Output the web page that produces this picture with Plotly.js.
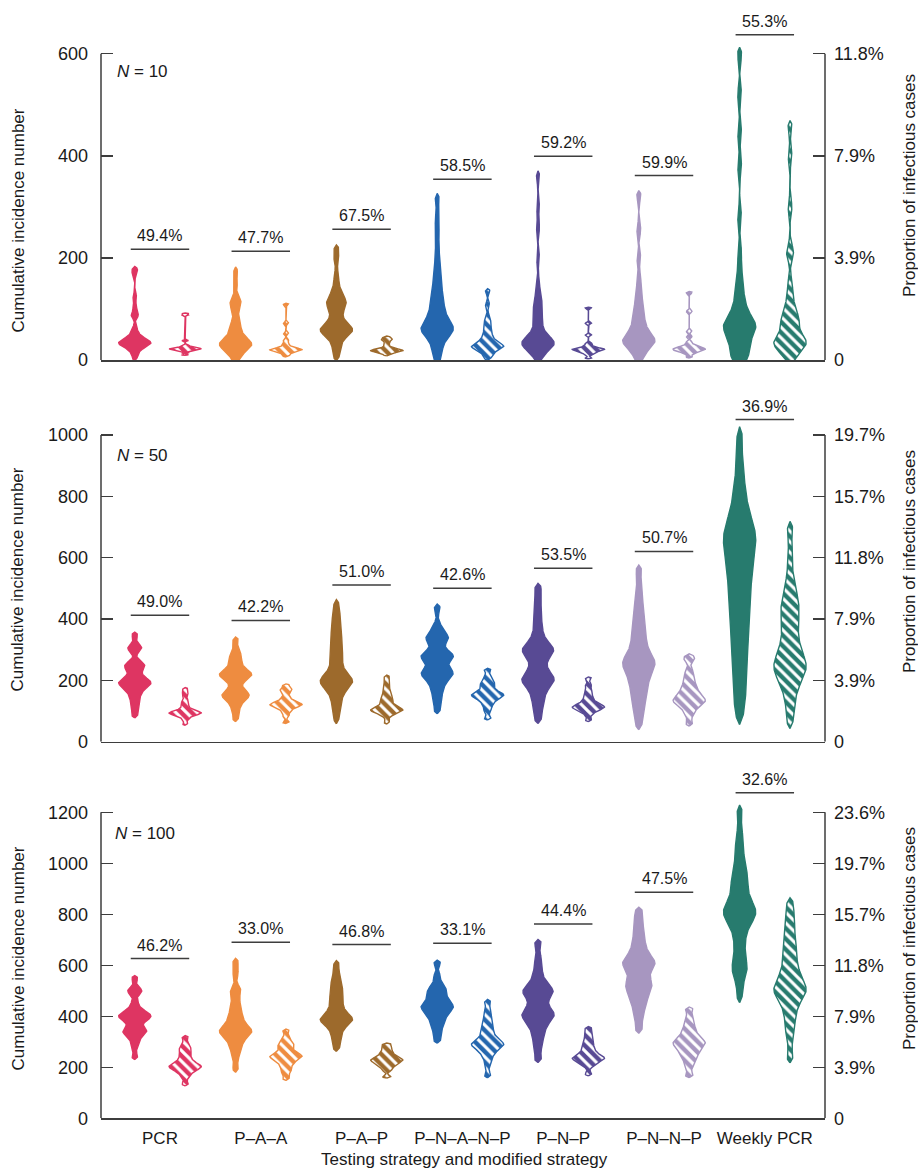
<!DOCTYPE html>
<html><head><meta charset="utf-8">
<script src="https://cdn.plot.ly/plotly-3.0.1.min.js"></script>
<style>body{margin:0;background:#fff}#chart{width:918px;height:1169px}</style>
</head><body><div id="chart"></div>
<script>
// ---------------- DATA ----------------
const categories = ['PCR', 'P–A–A', 'P–A–P', 'P–N–A–N–P', 'P–N–P', 'P–N–N–P', 'Weekly PCR'];
const colors = ['#DE3562', '#EE8C40', '#9D6A2C', '#2466AE', '#584A94', '#A796C0', '#277B6E'];

// N = 10 : original strategy (solid) samples of cumulative incidence
const n10Orig = [
  [4, 14, 20, 24, 27, 29, 31, 32, 33, 34, 35, 36, 38, 40, 43, 47, 52, 62, 87, 89, 105, 124, 170, 178],
  [1, 8, 14, 19, 23, 26, 28, 29, 30, 31, 33, 35, 38, 41, 45, 50, 56, 63, 70, 78, 95, 104, 110, 116, 122, 150, 174],
  [7, 22, 33, 42, 48, 52, 55, 57, 59, 61, 63, 66, 70, 76, 84, 92, 100, 106, 110, 114, 118, 124, 132, 145, 165, 196, 217],
  [2, 15, 26, 36, 44, 50, 54, 57, 59, 61, 63, 66, 70, 75, 80, 86, 93, 100, 108, 117, 127, 138, 150, 165, 185, 210, 245, 275, 315],
  [2, 12, 18, 23, 27, 29, 31, 32, 33, 34, 35, 37, 40, 44, 50, 57, 66, 76, 86, 96, 105, 113, 125, 150, 200, 260, 300, 360],
  [2, 12, 20, 26, 30, 33, 35, 37, 39, 42, 45, 49, 54, 60, 67, 75, 84, 94, 105, 118, 135, 160, 200, 255, 322],
  [0, 4, 10, 18, 26, 34, 42, 50, 55, 60, 63, 66, 69, 72, 76, 82, 90, 100, 112, 126, 145, 170, 210, 280, 380, 445, 520, 598]
];
// N = 10 : modified strategy (hatched)
const n10Mod = [
  [10, 14, 17, 18, 19, 20, 21, 21, 22, 22, 23, 23, 24, 25, 27, 29, 38, 88, 91],
  [8, 12, 15, 17, 18, 19, 20, 20, 21, 22, 23, 25, 28, 33, 39, 52, 72, 109],
  [10, 13, 15, 16, 17, 18, 18, 19, 19, 20, 21, 22, 24, 28, 33, 38, 40, 42, 45],
  [4, 10, 15, 19, 22, 24, 25, 26, 27, 28, 30, 32, 35, 38, 42, 47, 53, 60, 68, 75, 85, 108, 135],
  [4, 10, 13, 15, 17, 18, 19, 20, 21, 21, 22, 23, 24, 26, 29, 33, 49, 72, 102],
  [6, 12, 15, 17, 18, 19, 20, 21, 22, 23, 24, 25, 27, 30, 35, 46, 56, 95, 132],
  [3, 12, 19, 24, 28, 31, 34, 36, 38, 41, 45, 52, 60, 70, 76, 80, 86, 95, 108, 125, 150, 205, 216, 300, 400, 457]
];
const pct10 = [49.4, 47.7, 67.5, 58.5, 59.2, 59.9, 55.3];

// N = 50
const n50Orig = [
  [88, 112, 132, 148, 160, 170, 178, 184, 188, 191, 194, 198, 203, 210, 220, 235, 242, 247, 252, 262, 298, 305, 312, 347],
  [77, 105, 122, 135, 143, 148, 152, 156, 160, 170, 185, 198, 207, 212, 216, 219, 222, 226, 232, 242, 255, 268, 280, 295, 330],
  [76, 108, 130, 148, 162, 174, 183, 189, 193, 196, 199, 203, 208, 216, 226, 240, 256, 272, 288, 302, 318, 336, 354, 372, 392, 415, 446],
  [105, 140, 162, 180, 194, 206, 214, 220, 224, 228, 234, 244, 262, 270, 275, 279, 283, 288, 296, 322, 332, 338, 344, 355, 378, 435],
  [76, 108, 132, 152, 168, 182, 192, 198, 203, 208, 215, 226, 240, 256, 272, 284, 292, 298, 302, 308, 318, 334, 356, 385, 420, 460, 500],
  [60, 98, 122, 145, 165, 182, 198, 212, 225, 237, 247, 254, 260, 266, 276, 290, 306, 325, 345, 366, 390, 418, 450, 490, 555],
  [98, 150, 195, 235, 275, 312, 345, 378, 410, 440, 468, 495, 520, 545, 568, 590, 612, 632, 650, 665, 678, 692, 712, 740, 775, 820, 880, 985]
];
const n50Mod = [
  [58, 72, 80, 85, 88, 90, 92, 93, 94, 95, 97, 99, 102, 106, 112, 120, 128, 136, 150, 160, 172],
  [64, 84, 96, 104, 110, 114, 117, 119, 121, 123, 125, 128, 132, 138, 146, 158, 168, 172, 184],
  [64, 84, 92, 96, 99, 101, 103, 105, 107, 110, 114, 120, 128, 135, 142, 150, 160, 175, 192, 211],
  [77, 100, 115, 126, 134, 140, 145, 148, 151, 154, 157, 161, 166, 174, 183, 190, 198, 212, 233],
  [71, 88, 97, 102, 106, 109, 111, 113, 115, 118, 121, 125, 131, 138, 147, 158, 170, 185, 206],
  [60, 88, 103, 114, 121, 127, 131, 135, 139, 144, 150, 157, 165, 174, 185, 198, 214, 232, 266, 277],
  [71, 125, 162, 188, 206, 220, 232, 242, 250, 260, 272, 288, 306, 326, 350, 376, 400, 420, 440, 462, 485, 523, 594, 690]
];
const pct50 = [49.0, 42.2, 51.0, 42.6, 53.5, 50.7, 36.9];

// N = 100
const n100Orig = [
  [242, 282, 305, 322, 332, 338, 343, 348, 358, 372, 383, 390, 395, 399, 403, 407, 412, 420, 432, 455, 490, 500, 507, 548],
  [196, 240, 268, 285, 300, 314, 324, 331, 337, 341, 345, 350, 358, 368, 380, 393, 408, 425, 445, 470, 500, 508, 568, 612],
  [278, 304, 326, 345, 360, 370, 378, 383, 387, 391, 396, 403, 413, 425, 440, 456, 472, 488, 503, 520, 540, 562, 603],
  [307, 338, 360, 376, 390, 402, 412, 420, 428, 434, 439, 444, 451, 459, 469, 480, 492, 501, 510, 528, 558, 608],
  [236, 284, 315, 340, 360, 376, 389, 398, 405, 412, 420, 432, 448, 465, 480, 490, 497, 504, 513, 528, 550, 582, 625, 684],
  [353, 400, 432, 456, 476, 492, 506, 518, 528, 540, 556, 574, 590, 600, 607, 614, 623, 636, 654, 676, 702, 732, 770, 808],
  [484, 555, 578, 595, 625, 662, 700, 732, 758, 778, 792, 801, 808, 815, 824, 838, 858, 880, 905, 930, 950, 972, 1010, 1060, 1105, 1198]
];
const n100Mod = [
  [135, 162, 176, 185, 191, 196, 200, 203, 206, 210, 215, 222, 231, 242, 254, 266, 276, 290, 316],
  [157, 180, 192, 206, 216, 224, 231, 236, 240, 243, 246, 250, 256, 264, 274, 284, 290, 300, 315, 342],
  [163, 188, 199, 207, 213, 218, 222, 226, 229, 232, 236, 241, 247, 255, 265, 277, 290],
  [170, 212, 238, 254, 265, 274, 281, 286, 290, 294, 299, 306, 316, 328, 342, 358, 374, 394, 420, 455],
  [174, 204, 215, 222, 228, 232, 235, 238, 242, 247, 254, 262, 272, 284, 297, 312, 330, 352],
  [170, 205, 226, 242, 254, 264, 273, 281, 288, 294, 299, 305, 313, 323, 335, 350, 368, 392, 426],
  [242, 318, 360, 396, 426, 450, 468, 482, 493, 501, 509, 519, 531, 545, 561, 580, 602, 628, 655, 685, 712, 755, 792, 840]
];
const pct100 = [46.2, 33.0, 46.8, 33.1, 44.4, 47.5, 32.6];

const ticks10 = [0, 200, 400, 600];
const ticks50 = [0, 200, 400, 600, 800, 1000];
const ticks100 = [0, 200, 400, 600, 800, 1000, 1200];
const rightTickLabels = ['0', '3.9%', '7.9%', '11.8%', '15.7%', '19.7%', '23.6%'];
const panelLabels = ['10', '50', '100'];

// ---------------- STYLE / LAYOUT ----------------
const W = 918, H = 1169;
const FONT = 'Liberation Sans, Arial, Helvetica, sans-serif';
const AX = '#3d3d3d';
const TXT = '#1a1a1a';
const HALF = 0.16, OFF = 0.25, BW_SCALE = 0.45, SPAN = 0.4, TIP = 0.5;
const XR = [-0.585, 6.597];

const panelStyle = [
  {bottomPx: 360, topTickPx: 53.7, rangeTop: 690, labelPx: [115, 71], leftTitlePx: 221, rightTitlePx: 186},
  {bottomPx: 741.7, topTickPx: 435, rangeTop: 1100, labelPx: [115, 455], leftTitlePx: 580, rightTitlePx: 562},
  {bottomPx: 1118.3, topTickPx: 812.3, rangeTop: 1330, labelPx: [113, 833], leftTitlePx: 959, rightTitlePx: 939}
];
const panelData = [
  {orig: n10Orig, mod: n10Mod, pct: pct10, ticks: ticks10},
  {orig: n50Orig, mod: n50Mod, pct: pct50, ticks: ticks50},
  {orig: n100Orig, mod: n100Mod, pct: pct100, ticks: ticks100}
];

function kdeOutline(vals, center) {
  const s = vals.slice().sort((a, b) => a - b);
  const n = s.length;
  const mean = s.reduce((a, b) => a + b, 0) / n;
  const sd = Math.sqrt(s.reduce((a, b) => a + (b - mean) * (b - mean), 0) / (n - 1));
  const q = p => { const h = (n - 1) * p, lo = Math.floor(h), hi = Math.min(lo + 1, n - 1); return s[lo] + (h - lo) * (s[hi] - s[lo]); };
  const iqr = q(0.75) - q(0.25);
  let spread = Math.min(sd, iqr / 1.34);
  if (!(spread > 0)) spread = sd;
  const bw = 0.9 * spread * Math.pow(n, -0.2) * BW_SCALE;
  const y0 = s[0] - SPAN * bw, y1 = s[n - 1] + SPAN * bw;
  const M = 300;
  const ys = [], ds = [];
  let dmax = 0;
  for (let i = 0; i <= M; i++) {
    const y = y0 + (y1 - y0) * i / M;
    let d = 0;
    for (const v of s) { const z = (y - v) / bw; d += Math.exp(-0.5 * z * z); }
    ys.push(y); ds.push(d); if (d > dmax) dmax = d;
  }
  const px = [center], py = [y0 - TIP * bw];
  for (let i = 0; i <= M; i++) { px.push(center + HALF * ds[i] / dmax); py.push(ys[i]); }
  px.push(center); py.push(y1 + TIP * bw);
  for (let i = M; i >= 0; i--) { px.push(center - HALF * ds[i] / dmax); py.push(ys[i]); }
  px.push(px[0]); py.push(py[0]);
  return {x: px, y: py, max: s[n - 1]};
}

const traces = [];
const layout = {
  width: W, height: H,
  margin: {l: 101, r: 93, t: 0, b: 0},
  paper_bgcolor: '#ffffff', plot_bgcolor: 'rgba(0,0,0,0)',
  showlegend: false, hovermode: false,
  font: {family: FONT, size: 17, color: TXT},
  shapes: [], annotations: []
};

panelData.forEach((pd, k) => {
  const st = panelStyle[k];
  const xs = k === 0 ? '' : String(k + 1);
  const leftN = 2 * k + 1, rightN = 2 * k + 2;
  const leftId = leftN === 1 ? 'y' : 'y' + leftN;
  const rightId = 'y' + rightN;
  const xId = 'x' + xs;
  const top = pd.ticks[pd.ticks.length - 1];
  const ppu = (st.bottomPx - st.topTickPx) / top;
  const domTopPx = st.bottomPx - st.rangeTop * ppu;
  const dom = [1 - st.bottomPx / H, 1 - domTopPx / H];

  layout['xaxis' + xs] = {
    domain: [0, 1], range: XR, anchor: leftId, showline: true, linecolor: AX, linewidth: 1.5,
    ticks: '', showgrid: false, zeroline: false,
    tickvals: categories.map((c, i) => i), ticktext: categories,
    showticklabels: k === 2, tickfont: {family: FONT, size: 17, color: TXT}, ticklabelstandoff: 4
  };
  layout['yaxis' + (leftN === 1 ? '' : leftN)] = {
    domain: dom, range: [0, st.rangeTop], anchor: xId,
    ticks: 'inside', ticklen: 12, tickwidth: 1.5, tickcolor: AX,
    tickvals: pd.ticks, ticktext: pd.ticks.map(String),
    showline: false, zeroline: false, showgrid: false,
    tickfont: {family: FONT, size: 18, color: TXT}, ticklabelstandoff: 12
  };
  layout['yaxis' + rightN] = {
    overlaying: leftId, side: 'right', anchor: xId, range: [0, st.rangeTop],
    ticks: 'inside', ticklen: 12, tickwidth: 1.5, tickcolor: AX,
    tickvals: pd.ticks, ticktext: rightTickLabels.slice(0, pd.ticks.length),
    showline: false, zeroline: false, showgrid: false,
    tickfont: {family: FONT, size: 18, color: TXT}, ticklabelstandoff: 8
  };

  // axis lines ending at the top tick
  layout.shapes.push({type: 'line', xref: 'paper', yref: leftId, x0: 0, x1: 0, y0: 0, y1: top, line: {color: AX, width: 1.5}});
  layout.shapes.push({type: 'line', xref: 'paper', yref: leftId, x0: 1, x1: 1, y0: 0, y1: top, line: {color: AX, width: 1.5}});

  const bracketOff = 20 / ppu;
  categories.forEach((c, i) => {
    const col = colors[i];
    const a = kdeOutline(pd.orig[i], i - OFF);
    const b = kdeOutline(pd.mod[i], i + OFF);
    traces.push({x: a.x, y: a.y, xaxis: xId, yaxis: leftId, mode: 'lines', fill: 'toself',
      fillcolor: col, line: {color: col, width: 1.4}, hoverinfo: 'skip'});
    traces.push({x: b.x, y: b.y, xaxis: xId, yaxis: rightId, mode: 'lines', fill: 'toself',
      fillcolor: col, line: {color: col, width: 1.4}, hoverinfo: 'skip',
      fillpattern: {shape: '\\', bgcolor: col, fgcolor: '#ffffff', size: 7.5, solidity: 0.42, fillmode: 'replace'}});
    const yb = Math.max(a.max, b.max) + bracketOff;
    layout.shapes.push({type: 'line', xref: xId, yref: leftId, x0: i - 0.29, x1: i + 0.29, y0: yb, y1: yb,
      line: {color: AX, width: 1.5}});
    layout.annotations.push({xref: xId, yref: leftId, x: i, y: yb, text: pd.pct[i].toFixed(1) + '%',
      showarrow: false, yanchor: 'bottom', yshift: 3, font: {family: FONT, size: 16, color: TXT}});
  });

  layout.annotations.push({xref: 'paper', yref: 'paper', x: (st.labelPx[0] - 101) / (W - 194), y: 1 - st.labelPx[1] / H,
    xanchor: 'left', yanchor: 'middle', showarrow: false, text: '<i>N</i> = ' + panelLabels[k],
    font: {family: FONT, size: 17, color: TXT}});
  layout.annotations.push({xref: 'paper', yref: 'paper', x: (17.5 - 101) / (W - 194), y: 1 - st.leftTitlePx / H,
    xanchor: 'center', yanchor: 'middle', showarrow: false, textangle: -90, text: 'Cumulative incidence number',
    font: {family: FONT, size: 17, color: TXT}});
  layout.annotations.push({xref: 'paper', yref: 'paper', x: (909 - 101) / (W - 194), y: 1 - st.rightTitlePx / H,
    xanchor: 'center', yanchor: 'middle', showarrow: false, textangle: -90, text: 'Proportion of infectious cases',
    font: {family: FONT, size: 17, color: TXT}});
});

layout.annotations.push({xref: 'paper', yref: 'paper', x: (464 - 101) / (W - 194), y: 1 - 1159 / H,
  xanchor: 'center', yanchor: 'middle', showarrow: false, text: 'Testing strategy and modified strategy',
  font: {family: FONT, size: 17, color: TXT}});

Plotly.newPlot('chart', traces, layout, {staticPlot: true, displayModeBar: false});
</script></body></html>
